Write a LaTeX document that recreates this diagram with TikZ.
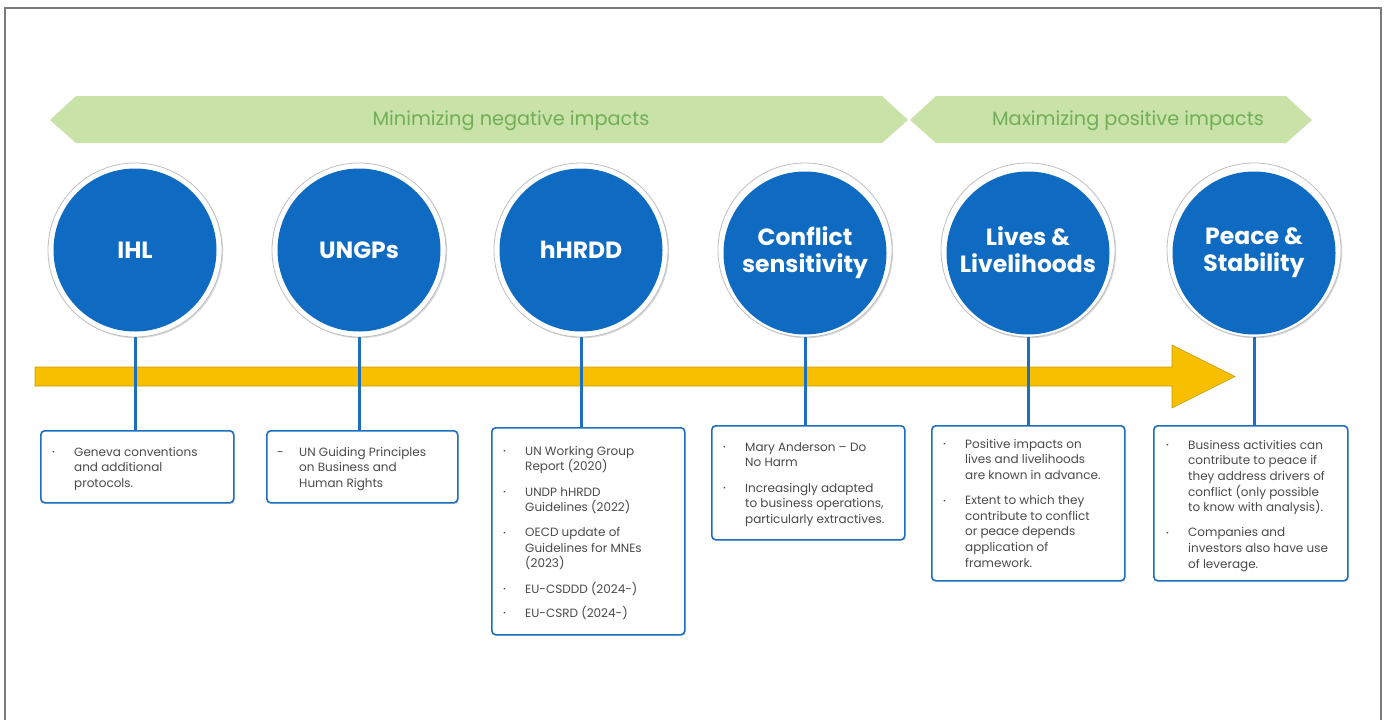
\documentclass[tikz,border=0pt]{standalone}
\usepackage{fontspec}
\setmainfont{Poppins}
\usetikzlibrary{shadows}

\definecolor{discblue}{HTML}{0F6BC1}
\definecolor{edgeblue}{HTML}{1E6FC0}
\definecolor{bannergreen}{HTML}{C8E2A8}
\definecolor{bannertext}{HTML}{72AE57}
\definecolor{arrowgold}{HTML}{F6C000}
\definecolor{arrowedge}{HTML}{C79A00}
\definecolor{bodygray}{HTML}{4A4A4A}
\definecolor{framegray}{HTML}{7A7A7A}

% bullet and dash markers for the list lines
\newcommand\bu{\makebox[22pt][l]{\raisebox{1.6pt}{\fontsize{7}{7}\selectfont •}}}
\newcommand\du{\makebox[22pt][l]{-}}
\newcommand\ind{\hspace*{22pt}}

\tikzset{
  banner/.style={fill=bannergreen, draw=none},
  bannerlabel/.style={text=bannertext, font=\fontsize{19.3}{21}\selectfont, inner sep=0pt},
  ring/.style={circle, fill=white, draw=black!25, line width=0.8pt, minimum size=174pt, inner sep=0pt,
    drop shadow={opacity=0.3, shadow xshift=1.2pt, shadow yshift=-1.2pt}},
  disc/.style={circle, fill=discblue, minimum size=163pt, inner sep=0pt, text=white, align=center,
    font=\fontsize{23.5}{27}\selectfont\bfseries},
  link/.style={draw=edgeblue, line width=3pt},
  infobox/.style={draw=edgeblue, line width=1.6pt, rounded corners=4pt, fill=white, anchor=north west,
    inner sep=0pt, drop shadow={opacity=0.2, shadow xshift=1.2pt, shadow yshift=-1.2pt}},
  boxtext/.style={anchor=north west, inner sep=0pt, align=left, text=bodygray,
    font=\fontsize{12}{15.6}\selectfont},
}

\begin{document}
\begin{tikzpicture}[x=1pt,y=-1pt]
\useasboundingbox (0,0) rectangle (1385,720);
\fill[white] (0,0) rectangle (1385,720);

% page frame, open at the bottom
\draw[framegray, line width=1.5pt] (5,720) -- (5,8) -- (1381,8) -- (1381,720);

% phase banners
\path[banner] (50,120) -- (76,96) -- (882,96) -- (908,120) -- (882,143) -- (76,143) -- cycle;
\path[banner] (910,120) -- (936,96) -- (1286,96) -- (1312,120) -- (1286,143) -- (936,143) -- cycle;
\node[bannerlabel] (neg) at (511,121) {Minimizing negative impacts};
\node[bannerlabel] (pos) at (1128,121) {Maximizing positive impacts};

% timeline arrow
\draw[fill=arrowgold, draw=arrowedge, line width=0.6pt]
  (35,367) -- (1172,367) -- (1172,345) -- (1235,376.5) -- (1172,408) -- (1172,386) -- (35,386) -- cycle;

% description boxes
\node[infobox, minimum width=193pt, minimum height=72pt]  (b1) at (40,430)   {};
\node[infobox, minimum width=191pt, minimum height=72pt]  (b2) at (266,430)  {};
\node[infobox, minimum width=193pt, minimum height=207pt] (b3) at (491,427)  {};
\node[infobox, minimum width=193pt, minimum height=114pt] (b4) at (711,425)  {};
\node[infobox, minimum width=193pt, minimum height=155pt] (b5) at (931,425)  {};
\node[infobox, minimum width=194pt, minimum height=155pt] (b6) at (1153,425) {};

% circles
\foreach \n/\x in {1/135,2/359,3/581,4/805,5/1028,6/1254}
  \node[ring] (r\n) at (\x,250) {};

% connectors from circles to boxes
\foreach \n in {1,...,6}
  \draw[link] (r\n.south) -- (r\n.south |- b\n.north);

\node[disc] (c1) at (r1) {IHL};
\node[disc] (c2) at (r2) {UNGPs};
\node[disc] (c3) at (r3) {hHRDD};
\node[disc, yshift=-3pt] (c4) at (r4) {Conflict\\sensitivity};
\node[disc, yshift=-3pt] (c5) at (r5) {Lives \&\\Livelihoods\vphantom{y}};
\node[disc, yshift=-3pt] (c6) at (r6) {Peace \&\\Stability};

% box texts
\node[boxtext] (t1) at (52,447) {\bu Geneva conventions\\\ind and additional\\\ind protocols.};
\node[boxtext] (t2) at (277,447) {\du UN Guiding Principles\\\ind on Business and\\\ind Human Rights};
\node[boxtext] (t3) at (503,446) {\bu UN Working Group\\\ind Report (2020)\\[9.5pt]
  \bu UNDP hHRDD\\\ind Guidelines (2022)\\[9.5pt]
  \bu OECD update of\\\ind Guidelines for MNEs\\\ind (2023)\\[9.5pt]
  \bu EU-CSDDD (2024-)\\[8.5pt]
  \bu EU-CSRD (2024-)};
\node[boxtext] (t4) at (723,442) {\bu Mary Anderson – Do\\\ind No Harm\\[10pt]
  \bu Increasingly adapted\\\ind to business operations,\\\ind particularly extractives.};
\node[boxtext] (t5) at (943,439) {\bu Positive impacts on\\\ind lives and livelihoods\\\ind are known in advance.\\[9.5pt]
  \bu Extent to which they\\\ind contribute to conflict\\\ind or peace depends\\\ind application of\\\ind framework.};
\node[boxtext] (t6) at (1166,440) {\bu Business activities can\\\ind contribute to peace if\\\ind they address drivers of\\\ind conflict (only possible\\\ind to know with analysis).\\[9.5pt]
  \bu Companies and\\\ind investors also have use\\\ind of leverage.};
\end{tikzpicture}
\end{document}
